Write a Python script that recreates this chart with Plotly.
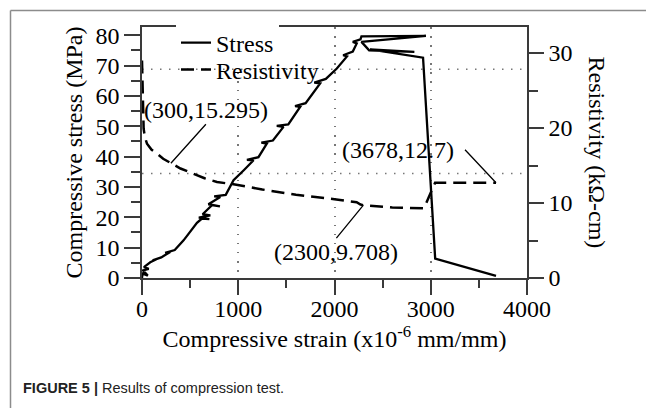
import plotly.graph_objects as go

# ---------------- data ----------------
stress_strain = [0, 5, 60, 10, 70, 20, 86, 150, 110, 200, 293, 240, 340, 432, 520, 571,
                 623, 700, 590, 710, 630, 727, 810, 690, 813, 750, 870, 917, 951,
                 1060, 1159, 1090, 1210, 1297, 1240, 1360, 1470, 1400, 1520, 1643, 1590,
                 1700, 1851, 1790, 1910, 2024, 2130, 2090, 2190, 2231, 2190, 2270, 2280,
                 2950, 2280, 2360, 2830, 2370, 2920, 3046, 3678]
stress_mpa = [0, 1.5, 0.8, 2.5, 3.0, 3.6, 5.2, 6.2, 5.8, 6.8, 8.6, 8.3, 9.2, 12.4, 16.0, 18.2,
              19.6, 19.4, 19.9, 20.6, 21.0, 24.0, 23.6, 24.3, 26.7, 26.9, 27.4, 30.5, 32.2,
              35.6, 38.8, 38.9, 39.8, 44.3, 44.6, 45.3, 49.8, 50.1, 50.6, 56.4, 56.6,
              57.6, 64.1, 64.4, 65.6, 69.0, 73.0, 73.4, 74.6, 77.3, 77.8, 78.6, 79.6,
              79.8, 77.8, 75.0, 74.5, 75.3, 72.6, 6.4, 0.7]

res_strain = [0, 5, 10, 17, 30, 52, 100, 156, 220, 300, 400, 536, 650, 779, 951,
              1250, 1600, 2000, 2230, 2270, 2300, 2600, 2930, 3045, 3678]
res_kohm = [29.0, 26.0, 23.0, 19.9, 18.8, 17.9, 17.1, 16.6, 15.9, 15.295, 14.6, 13.9, 13.3,
            12.8, 12.5, 11.8, 11.1, 10.5, 10.1, 9.8, 9.708, 9.4, 9.3, 12.7, 12.7]

callouts = [(300, 15.295, "(300,15.295)"), (2300, 9.708, "(2300,9.708)"),
            (3678, 12.7, "(3678,12.7)")]

x_ticks = [0, 1000, 2000, 3000, 4000]
y_ticks = [0, 10, 20, 30, 40, 50, 60, 70, 80]
y2_ticks = [0, 10, 20, 30]
ref_levels = [34.4, 68.8]  # dotted horizontal reference lines (stress units)

SERIF = "Liberation Serif, Times New Roman, serif"
AX = "#3a3a3a"
FS = 24

fig = go.Figure()
fig.add_trace(go.Scatter(x=stress_strain, y=stress_mpa, mode="lines", name="Stress",
                         line=dict(color="black", width=2.3), legend="legend",
                         showlegend=True))
fig.add_trace(go.Scatter(x=res_strain, y=res_kohm, mode="lines", name="Resistivity",
                         yaxis="y2", line=dict(color="black", width=2.5, dash="13px,7px"),
                         legend="legend2", showlegend=True))

# the page body adds an 8px offset; work in window pixels and convert
OFF = 8
W, H = 654, 408
L, R, T, B = 142 - OFF, 127 + OFF, 27 - OFF, 130 + OFF
pw, ph = W - L - R, H - T - B


def px(xw):
    return (xw - OFF - L) / pw


def py(yw):
    return (H - B - (yw - OFF)) / ph


for lvl in ref_levels:
    fig.add_shape(type="line", xref="paper", x0=0, x1=1, yref="y", y0=lvl, y1=lvl,
                  line=dict(color="#777", width=1.5, dash="1.5px,7.5px"), layer="below")

# outer card frame
fig.add_shape(type="line", xref="paper", yref="paper", x0=px(10.5), x1=px(670),
              y0=py(10.5), y1=py(10.5), line=dict(color="#8c8c8c", width=1.5))
fig.add_shape(type="line", xref="paper", yref="paper", x0=px(10.5), x1=px(10.5),
              y0=py(10.5), y1=py(430), line=dict(color="#8c8c8c", width=1.5))

ann_cfg = {
    "(300,15.295)": dict(ax=35, ay=-39, xanchor="center", yanchor="bottom", pad=0),
    "(2300,9.708)": dict(ax=-27, ay=33, xanchor="center", yanchor="top", pad=0),
    "(3678,12.7)": dict(ax=-31, ay=-33, xanchor="right", yanchor="middle", pad=10),
}
for xv, yv, label in callouts:
    c = ann_cfg[label]
    fig.add_annotation(x=xv, y=yv, xref="x", yref="y2", text=label, showarrow=True,
                       arrowhead=0, arrowwidth=1.3, arrowcolor="black",
                       ax=c["ax"], ay=c["ay"], xanchor=c["xanchor"], yanchor=c["yanchor"],
                       font=dict(family=SERIF, size=FS, color="black"), borderpad=c["pad"])

fig.add_annotation(xref="paper", yref="paper", x=px(597), y=0.5, text="Resistivity (kΩ-cm)",
                   textangle=90, showarrow=False, xanchor="center", yanchor="middle",
                   font=dict(family=SERIF, size=FS, color="black"))

fig.add_annotation(xref="paper", yref="paper", x=px(21), y=py(388), xanchor="left",
                   yanchor="middle", showarrow=False,
                   text="<b>FIGURE 5 |</b> Results of compression test.",
                   font=dict(family="Liberation Sans Narrow, Liberation Sans, Arial", size=14.5,
                             color="#222"))

fig.update_layout(
    width=W, height=H, margin=dict(l=L, r=R, t=T, b=B, autoexpand=False),
    paper_bgcolor="white", plot_bgcolor="white", showlegend=True,
    font=dict(family=SERIF, size=FS, color="black"),
    legend=dict(x=px(176), y=py(43), xanchor="left", yanchor="middle",
                bgcolor="white", borderwidth=0, font=dict(family=SERIF, size=FS)),
    legend2=dict(x=px(176), y=py(70), xanchor="left", yanchor="middle",
                 bgcolor="rgba(0,0,0,0)", borderwidth=0, font=dict(family=SERIF, size=FS)),
    xaxis=dict(range=[0, 4000], tickvals=x_ticks, ticks="outside", ticklen=15,
               tickcolor=AX, tickwidth=1.5, ticklabelstandoff=-7,
               minor=dict(dtick=500, ticks="outside", ticklen=8, tickcolor=AX, tickwidth=1.5),
               showline=True, linecolor=AX, linewidth=1.5, mirror=True,
               showgrid=True, gridcolor="#777", gridwidth=1.5, griddash="1.5px,7.5px",
               zeroline=False,
               title=dict(text="Compressive strain (x10<sup>-6</sup> mm/mm)", standoff=2,
                          font=dict(size=FS)),
               tickfont=dict(size=FS)),
    yaxis=dict(range=[0, 82.7], tickvals=y_ticks, ticks="outside", ticklen=16,
               tickcolor=AX, tickwidth=1.5,
               minor=dict(dtick=5, ticks="outside", ticklen=9, tickcolor=AX, tickwidth=1.5),
               showline=True, linecolor=AX, linewidth=1.5, showgrid=False, zeroline=False,
               title=dict(text="Compressive stress (MPa)", standoff=6, font=dict(size=FS)),
               tickfont=dict(size=FS)),
    yaxis2=dict(range=[0, 33.47], tickvals=y2_ticks, overlaying="y", side="right",
                ticks="outside", ticklen=15, tickcolor=AX, tickwidth=1.5,
                minor=dict(dtick=5, ticks="outside", ticklen=9, tickcolor=AX, tickwidth=1.5),
                showline=True, linecolor=AX, linewidth=1.5, showgrid=False, zeroline=False,
                tickfont=dict(size=FS)),
)

fig.write_html("out.html")
